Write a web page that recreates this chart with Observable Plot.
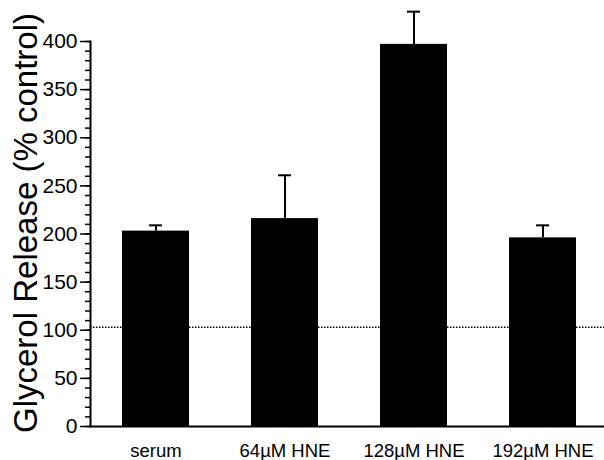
<!DOCTYPE html>
<html>
<head>
<meta charset="utf-8">
<script src="https://cdn.jsdelivr.net/npm/d3@7"></script>
<script src="https://cdn.jsdelivr.net/npm/@observablehq/plot@0.6"></script>
<style>
  html, body { margin: 0; padding: 0; background: #fff; }
  #chart svg { display: block; font-family: "Liberation Sans", Arial, Helvetica, sans-serif; }
</style>
</head>
<body>
<div id="chart"></div>
<script>
const categories = ["serum", "64\u00b5M HNE", "128\u00b5M HNE", "192\u00b5M HNE"];
const values = [203, 216, 397, 196];
const errors = [6, 45, 34, 13];
const controlLevel = [103];
const majorTicks = [0, 50, 100, 150, 200, 250, 300, 350, 400];
const minorTicks = d3.range(0, 401, 10);
const yLabel = "Glycerol Release (% control)";

const data = categories.map((c, i) => ({cat: c, value: values[i], top: values[i] + errors[i]}));

const chart = Plot.plot({
  width: 604,
  height: 460,
  marginTop: 41,
  marginBottom: 34,
  marginLeft: 90,
  marginRight: 0,
  style: {fontFamily: "Liberation Sans, Arial, Helvetica, sans-serif", color: "#000", background: "#fff"},
  x: {domain: categories, range: [91, 607], padding: 0.48, paddingOuter: 0.24, align: 0.5, label: null},
  y: {domain: [0, 400], label: null},
  marks: [
    Plot.ruleY(controlLevel, {stroke: "#000", strokeWidth: 1.5, strokeDasharray: "1.5,1.5"}),
    Plot.ruleX(data, {x: "cat", y1: "value", y2: "top", stroke: "#000", strokeWidth: 2}),
    Plot.tickY(data, {x: "cat", y: "top", stroke: "#000", strokeWidth: 2, insetLeft: 27, insetRight: 27}),
    Plot.barY(data, {x: "cat", y: "value", fill: "#000"}),
    Plot.ruleY([0], {stroke: "#000", strokeWidth: 2}),
    Plot.frame({anchor: "left", stroke: "#000", strokeWidth: 2}),
    Plot.axisY({ticks: minorTicks, tickSize: 5, text: null, stroke: "#000", strokeWidth: 1.5}),
    Plot.axisY({ticks: majorTicks, tickSize: 10, tickPadding: 3, fontSize: 21, stroke: "#000", strokeWidth: 1.5, label: null, tickFormat: d => String(d)}),
    Plot.axisX({tickSize: 0, tickPadding: 17, fontSize: 18.5, label: null}),
    Plot.text([yLabel], {frameAnchor: "left", rotate: -90, dx: -64, dy: -11, fontSize: 33, textAnchor: "middle", lineAnchor: "middle", fill: "#000"})
  ]
});
document.getElementById("chart").appendChild(chart);
</script>
</body>
</html>
